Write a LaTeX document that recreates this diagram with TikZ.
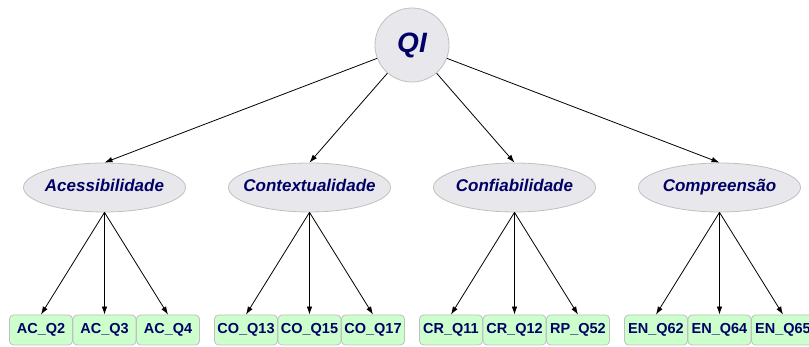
\documentclass[tikz,border=0pt]{standalone}
\usepackage{fontspec}
\setmainfont{Liberation Sans}
\usetikzlibrary{arrows.meta,shapes.geometric}
\definecolor{qinavy}{RGB}{0,0,102}
\definecolor{qigray}{RGB}{232,232,236}
\definecolor{qiborder}{RGB}{192,192,192}
\definecolor{qigreen}{RGB}{204,255,204}

\begin{document}
\begin{tikzpicture}
[
    x = 1pt, y = 1pt,
    root/.style = {circle, draw = qiborder, line width = 0.8pt, fill = qigray, minimum size = 74pt, inner sep = 0pt, text = qinavy, font = \fontsize{28}{32}\selectfont\bfseries\itshape},
    dimension/.style = {ellipse, draw = qiborder, line width = 0.8pt, fill = qigray, minimum width = 162pt, minimum height = 49pt, inner xsep = -11pt, inner ysep = 0pt, text height = 12pt, text depth = 3.5pt, text = qinavy, font = \fontsize{17}{20}\selectfont\bfseries\itshape},
    leaf/.style = {rectangle, rounded corners = 4pt, draw = qiborder, line width = 0.8pt, fill = qigreen, minimum width = 63pt, minimum height = 30pt, inner sep = 0pt, text height = 10.5pt, text depth = 3pt, text = qinavy, font = \fontsize{14.5}{17}\selectfont\bfseries},
    edge from parent/.style = {draw, line width = 0.8pt, -{Latex[length = 8pt, width = 5.5pt]}},
    level 1/.style = {sibling distance = 205pt, edge from parent path = {(\tikzparentnode) -- (\tikzchildnode.north)}},
    level 2/.style = {sibling distance = 63.5pt, edge from parent path = {(\tikzparentnode.south) -- (\tikzchildnode.north)}}
]
\useasboundingbox (0,0) rectangle (809,347);
\node[root] (qi) at (412,302) {QI} [level distance = 142.5pt]
    child {
    node[dimension] (acc) {Acessibilidade}
        child {node[leaf] (ac2) {AC\_Q2}}
        child {node[leaf] (ac3) {AC\_Q3}}
        child {node[leaf] (ac4) {AC\_Q4}}
    }
    child {
    node[dimension] (ctx) {Contextualidade}
        child {node[leaf] (co13) {CO\_Q13}}
        child {node[leaf] (co15) {CO\_Q15}}
        child {node[leaf] (co17) {CO\_Q17}}
    }
    child {
    node[dimension] (cnf) {Confiabilidade}
        child {node[leaf] (cr11) {CR\_Q11}}
        child {node[leaf] (cr12) {CR\_Q12}}
        child {node[leaf] (rp52) {RP\_Q52}}
    }
    child {
    node[dimension] (cmp) {Compreensão}
        child {node[leaf] (en62) {EN\_Q62}}
        child {node[leaf] (en64) {EN\_Q64}}
        child {node[leaf] (en65) {EN\_Q65}}
    };
\end{tikzpicture}
\end{document}
